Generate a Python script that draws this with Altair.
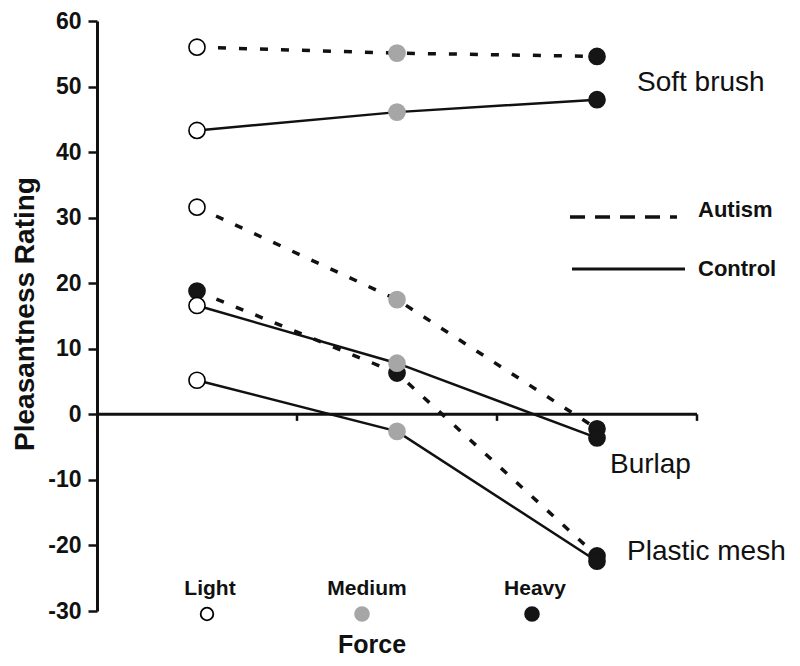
import altair as alt
import pandas as pd

# ---------------- data ----------------
forces = ["Light", "Medium", "Heavy"]
force_fill = ["#ffffff", "#a6a6a6", "#151515"]
groups = ["Autism", "Control"]

autism_soft_brush = [56.0, 55.1, 54.6]
control_soft_brush = [43.3, 46.1, 48.0]
autism_burlap = [31.6, 17.5, -2.2]
control_burlap = [16.6, 7.8, -3.6]
autism_plastic_mesh = [18.8, 6.3, -21.6]
control_plastic_mesh = [5.2, -2.6, -22.4]
# in the original figure every Autism / Plastic-mesh marker is black
autism_plastic_mesh_fill = ["#151515", "#151515", "#151515"]

y_ticks = [-30, -20, -10, 0, 10, 20, 30, 40, 50, 60]
x_axis_ticks = [1, 2, 3]

material_labels = ["Soft brush", "Burlap", "Plastic mesh"]

series = [
    ("Plastic mesh", "Autism", autism_plastic_mesh, autism_plastic_mesh_fill),
    ("Soft brush", "Autism", autism_soft_brush, force_fill),
    ("Soft brush", "Control", control_soft_brush, force_fill),
    ("Burlap", "Autism", autism_burlap, force_fill),
    ("Burlap", "Control", control_burlap, force_fill),
    ("Plastic mesh", "Control", control_plastic_mesh, force_fill),
]

rows = []
for mat, grp, vals, fills in series:
    for i, f in enumerate(forces):
        fill = fills[i]
        rows.append({
            "series": mat + " / " + grp,
            "material": mat,
            "group": grp,
            "force": f,
            "pos": i + 0.5,
            "value": vals[i],
            "fill": fill,
            "stroke": "#000000" if fill == "#ffffff" else fill,
        })
df = pd.DataFrame(rows)

FONT = "Liberation Sans"

x_enc = alt.X("pos:Q", scale=alt.Scale(domain=[0, 3], nice=False), axis=None)
y_enc = alt.Y(
    "value:Q",
    scale=alt.Scale(domain=[-30, 60], nice=False, zero=False),
    axis=alt.Axis(
        values=y_ticks, title=None, grid=False,
        labelExpr="'' + datum.value",
        labelFont=FONT, labelFontSize=23, labelFontWeight="bold", labelColor="#111",
        tickSize=9, tickWidth=2.5, tickColor="#111",
        domainWidth=3, domainColor="#111", labelPadding=7,
    ),
)

autism_lines = alt.Chart(df[df["group"] == "Autism"]).mark_line(
    color="#111", strokeWidth=3.5, strokeDash=[8, 13]
).encode(x=x_enc, y=y_enc, detail="series:N")

control_lines = alt.Chart(df[df["group"] == "Control"]).mark_line(
    color="#111", strokeWidth=2.5
).encode(x=x_enc, y=y_enc, detail="series:N")

points = alt.Chart(df).mark_circle(size=260, opacity=1, strokeWidth=1.6).encode(
    x=x_enc,
    y=y_enc,
    fill=alt.Fill("fill:N", scale=None),
    stroke=alt.Stroke("stroke:N", scale=None),
)

zero_line = alt.Chart(pd.DataFrame({"pos": [0.0], "b": [3.0], "value": [0.0]})).mark_rule(
    color="#111", strokeWidth=3
).encode(x=x_enc, x2="b", y=y_enc)

zero_ticks = alt.Chart(
    pd.DataFrame({"pos": x_axis_ticks, "value": [0.0] * 3, "v1": [-1.0] * 3})
).mark_rule(color="#111", strokeWidth=2.5).encode(x=x_enc, y=y_enc, y2="v1")


def label(text, x, y, size, weight="normal", align="left", baseline="alphabetic", angle=0):
    return alt.Chart(pd.DataFrame({"t": [text]})).mark_text(
        font=FONT, fontSize=size, fontWeight=weight, align=align,
        baseline=baseline, angle=angle, color="#111",
    ).encode(x=alt.value(x), y=alt.value(y), text="t:N")


annotations = [
    label(material_labels[0], 540, 70, 28),
    label(material_labels[1], 513, 452, 28),
    label(material_labels[2], 530, 539, 28),
    label(groups[0], 601, 196, 22, "bold"),
    label(groups[1], 601, 255, 22, "bold"),
    label("Pleasantness Rating", -71, 293, 28, "bold", "center", "middle", 270),
    label("Force", 275, 632, 25, "bold", "center"),
]

legend_lines = [
    alt.Chart(pd.DataFrame({"g": [groups[0]]})).mark_rule(color="#111", strokeWidth=3.5, strokeDash=[15, 10]).encode(
        x=alt.value(473), x2=alt.value(580), y=alt.value(196)),
    alt.Chart(pd.DataFrame({"g": [groups[1]]})).mark_rule(color="#111", strokeWidth=3).encode(
        x=alt.value(475), x2=alt.value(588), y=alt.value(248)),
]

force_label_x = [113, 270, 438]
force_dot_x = [110, 265, 435]
force_legend = []
for i, f in enumerate(forces):
    force_legend.append(label(f, force_label_x[i], 574, 21, "bold", "center"))
    fill = force_fill[i]
    force_legend.append(
        alt.Chart(pd.DataFrame({"f": [f]})).mark_circle(
            size=190 if fill != "#ffffff" else 160, opacity=1,
            fill=fill, stroke="#000000" if fill == "#ffffff" else fill, strokeWidth=1.8,
        ).encode(x=alt.value(force_dot_x[i]), y=alt.value(593))
    )

chart = alt.layer(
    zero_line, zero_ticks, autism_lines, control_lines, points,
    *annotations, *legend_lines, *force_legend
).properties(
    width=600,
    height=590,
    autosize=alt.AutoSizeParams(type="none"),
    padding={"left": 89, "top": 13, "right": 95, "bottom": 50},
    background="white",
).configure_view(stroke=None)

chart.save("out.html", embed_options={"renderer": "svg", "actions": False})
